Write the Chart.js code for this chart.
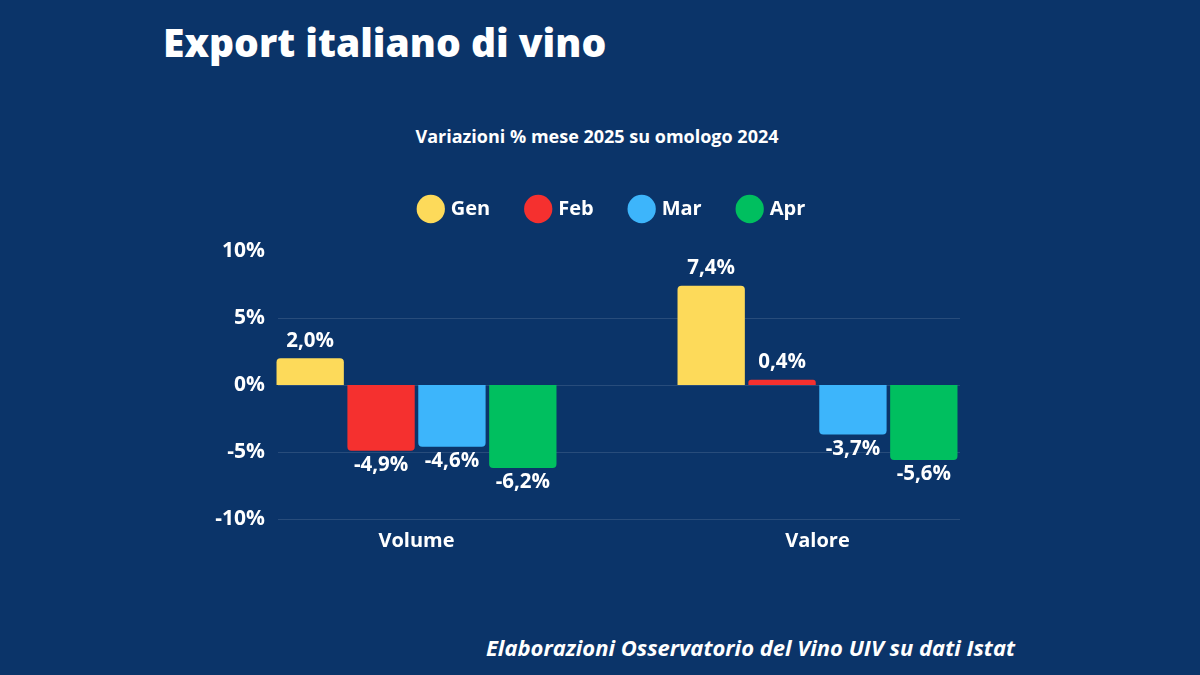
<!DOCTYPE html>
<html><head><meta charset="utf-8">
<script src="https://cdn.jsdelivr.net/npm/chart.js@4"></script>
<style>
html,body{margin:0;padding:0;background:#0b3469;width:1200px;height:675px;overflow:hidden;font-family:"Open Sans",sans-serif;}
#t{position:absolute;left:163px;top:15px;color:#fff;font-weight:800;font-size:39px;}
#s{position:absolute;left:0;width:1194px;text-align:center;top:124px;color:#fff;font-weight:700;font-size:18px;}
#f{position:absolute;right:185px;top:632px;color:#fff;font-weight:700;font-style:italic;font-size:22px;}
#w{position:absolute;left:0;top:0;width:1200px;height:675px;}
</style></head><body>
<div id="t">Export italiano di vino</div>
<div id="s">Variazioni % mese 2025 su omologo 2024</div>
<div id="f">Elaborazioni Osservatorio del Vino UIV su dati Istat</div>
<div id="w"><canvas id="c"></canvas></div>
<script>
const categories=["Volume","Valore"];
const seriesNames=["Gen","Feb","Mar","Apr"];
const gen=[2.0,7.4];
const feb=[-4.9,0.4];
const mar=[-4.6,-3.7];
const apr=[-6.2,-5.6];
const yTicks=[10,5,0,-5,-10];
const colors=["#fdda5a","#f5302f","#3db5fb","#00bf5f"];
const vals=[gen,feb,mar,apr];
const fmt=v=>v.toFixed(1).replace('.',',')+'%';
const axisPlugin={id:'ax',beforeDatasetsDraw(ch){const c=ch.ctx,y=ch.scales.y,a=ch.chartArea;c.save();
const x0=a.left+62,x1=a.right-58;
c.strokeStyle='rgba(255,255,255,0.12)';c.lineWidth=1;
c.fillStyle='#fff';c.font='700 21px "Open Sans"';c.textAlign='right';c.textBaseline='middle';
yTicks.forEach(t=>{const py=Math.round(y.getPixelForValue(t))+0.5;
if(t!==10){c.beginPath();c.moveTo(x0,py);c.lineTo(x1,py);c.stroke();}
c.fillText(t+'%',x0-13,py);});c.restore();}};
const labelPlugin={id:'lbl',afterDatasetsDraw(ch){const c=ch.ctx;c.save();c.fillStyle='#fff';c.font='700 20.5px "Open Sans"';c.textAlign='center';
ch.data.datasets.forEach((ds,i)=>{ch.getDatasetMeta(i).data.forEach((b,j)=>{const v=ds.data[j];
if(v>=0){c.textBaseline='bottom';c.fillText(fmt(v),b.x,b.y-7);}else{c.textBaseline='top';c.fillText(fmt(v),b.x,b.y+4);}});});c.restore();}};
const legendPad={id:'lp',beforeInit(ch){const f=ch.legend.fit;ch.legend.fit=function(){f.bind(ch.legend)();this.height+=22;};}};
Chart.defaults.font.family='"Open Sans"';
new Chart(document.getElementById('c'),{type:'bar',
data:{labels:categories,datasets:seriesNames.map((n,i)=>({label:n,data:vals[i],backgroundColor:colors[i],borderRadius:4,borderSkipped:'start',barPercentage:0.95,categoryPercentage:0.707}))},
options:{responsive:true,maintainAspectRatio:false,animation:false,
layout:{padding:{left:208,right:182,top:161,bottom:120}},
plugins:{legend:{labels:{color:'#fff',usePointStyle:true,pointStyle:'circle',boxWidth:20,boxHeight:20,padding:38,font:{size:20,weight:'700'}}},tooltip:{enabled:false}},
scales:{x:{grid:{display:false},border:{display:false},ticks:{color:'#fff',font:{size:20,weight:'700'},padding:2}},
y:{min:-10,max:10,ticks:{display:false,stepSize:5},border:{display:false},grid:{display:false}}}},
plugins:[legendPad,axisPlugin,labelPlugin]});
</script></body></html>
